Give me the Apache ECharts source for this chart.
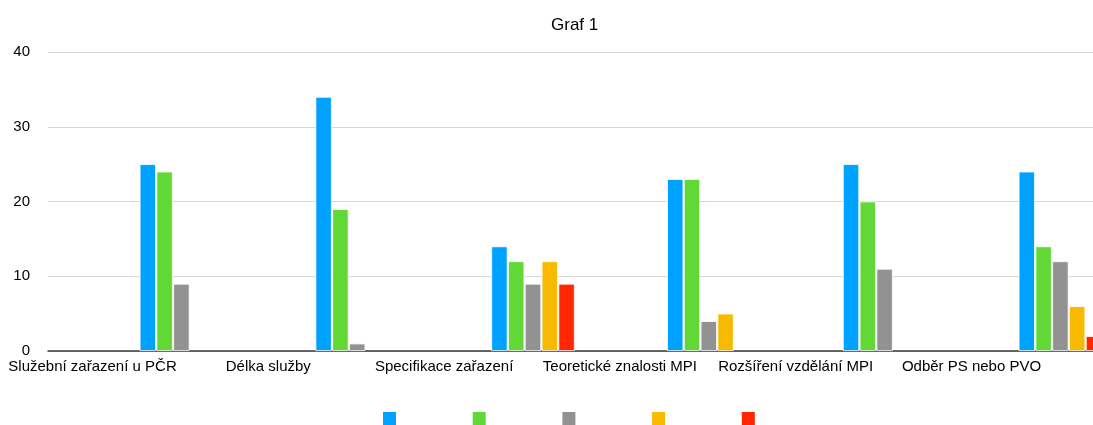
<!DOCTYPE html>
<html>
<head>
<meta charset="utf-8">
<script src="https://cdn.jsdelivr.net/npm/echarts@6/dist/echarts.min.js"></script>
<style>html,body{margin:0;padding:0;background:#fff}#c{width:1093px;height:425px}</style>
</head>
<body>
<div id="c"></div>
<script>
const categories = ["Služební zařazení u PČR", "Délka služby", "Specifikace zařazení", "Teoretické znalosti MPI", "Rozšíření vzdělání MPI", "Odběr PS nebo PVO"];
const seriesNames = ["Řada 1", "Řada 2", "Řada 3", "Řada 4", "Řada 5"];
const s1 = [25, 34, 14, 23, 25, 24];
const s2 = [24, 19, 12, 23, 20, 14];
const s3 = [9, 1, 9, 4, 11, 12];
const s4 = [0, 0, 12, 5, 0, 6];
const s5 = [0, 0, 9, 0, 0, 2];
const yTicks = [0, 10, 20, 30, 40];
const colors = ["#00A2FF", "#61D836", "#929292", "#F8BA00", "#FF2600"];

const font = "'Liberation Sans', Arial, Helvetica, sans-serif";
const values = [s1, s2, s3, s4, s5];
const chart = echarts.init(document.getElementById('c'), null, {renderer: 'canvas'});
const gTop = 52, gH = 299, bandW = 175.8;
chart.setOption({
  animation: false,
  color: colors,
  title: {text: 'Graf 1', left: 546, top: 12, textStyle: {fontFamily: font, fontSize: 17, fontWeight: 'normal', color: '#000'}},
  legend: {
    left: 376, top: 405, itemWidth: 15, itemHeight: 15, icon: 'rect', itemGap: 72.7,
    formatter: () => '', data: seriesNames, textStyle: {fontSize: 1}
  },
  grid: [
    {left: 48, right: 0, top: gTop, height: gH, outerBoundsMode: 'none'},
    {left: 92.5 - bandW / 2, width: bandW * 6, top: gTop, height: gH, outerBoundsMode: 'none'},
    {left: 181.4 - bandW / 2, width: bandW * 6, top: gTop, height: gH, outerBoundsMode: 'none'}
  ],
  xAxis: [
    {gridIndex: 0, type: 'category', data: categories, axisLine: {lineStyle: {color: '#3a3a3a', width: 1.5}}, axisTick: {show: false}, axisLabel: {show: false}},
    {gridIndex: 1, type: 'category', data: categories, axisLine: {show: false}, axisTick: {show: false},
      axisLabel: {margin: 8, interval: 0, fontFamily: font, fontSize: 15, color: '#000'}},
    {gridIndex: 2, type: 'category', data: categories, show: false}
  ],
  yAxis: [
    {gridIndex: 0, type: 'value', min: yTicks[0], max: yTicks[yTicks.length - 1], interval: 10,
      axisLine: {show: false}, axisTick: {show: false},
      splitLine: {lineStyle: {color: '#d6d6d6', width: 1}},
      axisLabel: {margin: 18, fontFamily: font, fontSize: 15, color: '#000'}},
    {gridIndex: 1, type: 'value', min: 0, max: 40, show: false},
    {gridIndex: 2, type: 'value', min: 0, max: 40, show: false}
  ],
  series: seriesNames.map((n, i) => ({
    name: n, type: 'bar', xAxisIndex: 2, yAxisIndex: 2, z: 1,
    data: values[i].map(v => (v === 0 ? '-' : v)),
    barWidth: 16.3, barGap: '3%', clip: false,
    itemStyle: {color: colors[i], borderColor: '#ffffff', borderWidth: 0.8}
  }))
});
</script>
</body>
</html>
